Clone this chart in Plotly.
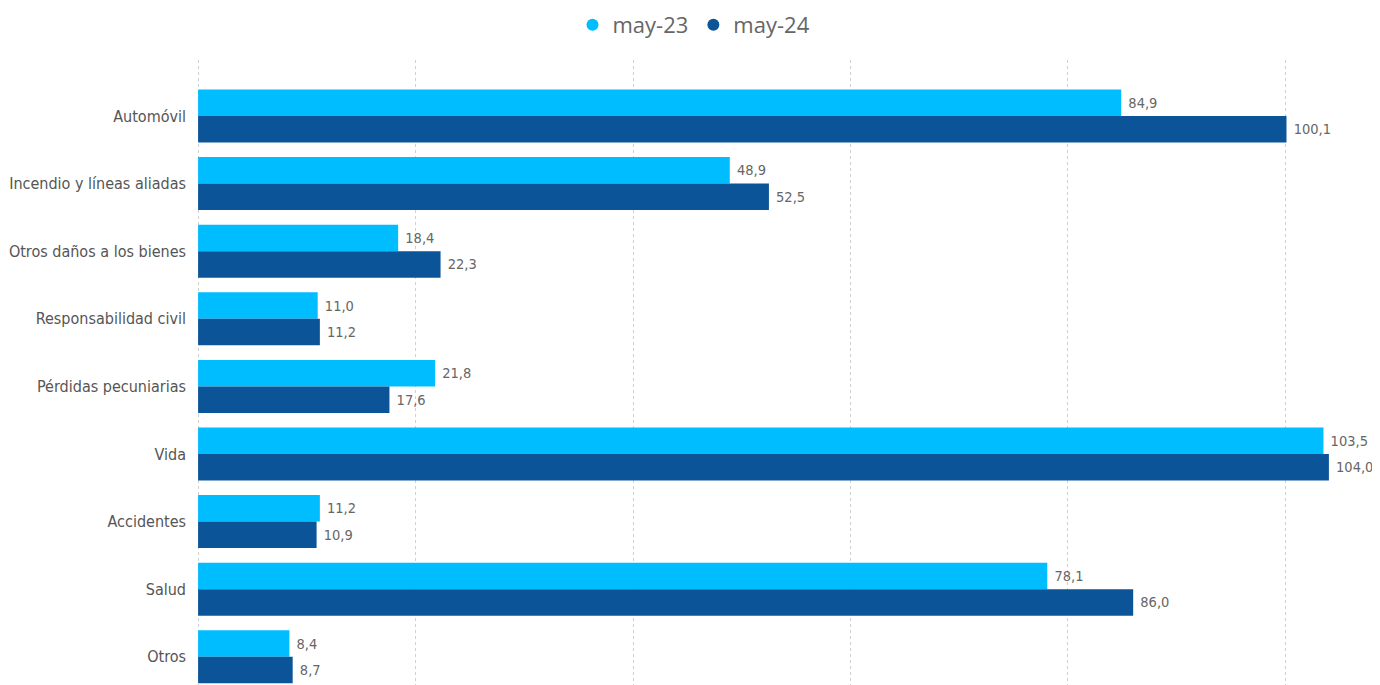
import plotly.graph_objects as go

categories = ["Automóvil", "Incendio y líneas aliadas", "Otros daños a los bienes",
              "Responsabilidad civil", "Pérdidas pecuniarias", "Vida", "Accidentes",
              "Salud", "Otros"]
may23 = [84.9, 48.9, 18.4, 11.0, 21.8, 103.5, 11.2, 78.1, 8.4]
may24 = [100.1, 52.5, 22.3, 11.2, 17.6, 104.0, 10.9, 86.0, 8.7]
series_names = ["may-23", "may-24"]
colors = ["#00BDFF", "#0C5498"]

NARROW = "DejaVu Sans Condensed, sans-serif"

def fmt(v):
    return "\u00a0" + f"{v:.1f}".replace(".", ",")

fig = go.Figure()
for name, vals, col in zip(series_names, [may23, may24], colors):
    fig.add_trace(go.Bar(
        y=categories, x=vals, orientation="h", name=name,
        marker=dict(color=col, line=dict(width=0)),
        text=[fmt(v) for v in vals], textposition="outside",
        textfont=dict(family=NARROW, size=14.5, color="#666666"),
        cliponaxis=False, showlegend=False,
    ))
    fig.add_trace(go.Scatter(
        x=[None], y=[None], mode="markers", name=name,
        marker=dict(symbol="circle", size=16, color=col),
    ))

# page body has an 8px default margin: figure is sized/placed to compensate
fig.update_layout(
    width=1372, height=677,
    paper_bgcolor="white", plot_bgcolor="white",
    margin=dict(l=189, r=0, t=52, b=0, autoexpand=False),
    barmode="group", bargap=0.216, bargroupgap=0,
    legend=dict(orientation="h", xref="container", yref="container",
                x=0.5, xanchor="center", y=0.975, yanchor="middle",
                font=dict(family="Open Sans, sans-serif", size=22, color="#666666"),
                itemsizing="constant", traceorder="normal"),
    xaxis=dict(range=[-0.1, 108.7], showticklabels=False, showgrid=True,
               gridcolor="#D0D0D0", griddash="dot", gridwidth=1,
               dtick=20, tick0=0, zeroline=False, showline=False, automargin=False),
    yaxis=dict(type="category", range=[8.417, -0.828], autorange=False,
               tickfont=dict(family=NARROW, size=16, color="#555555"),
               ticks="", ticklabelstandoff=10, showgrid=False, zeroline=False,
               showline=False, automargin=False),
)
fig.write_html("out.html")
